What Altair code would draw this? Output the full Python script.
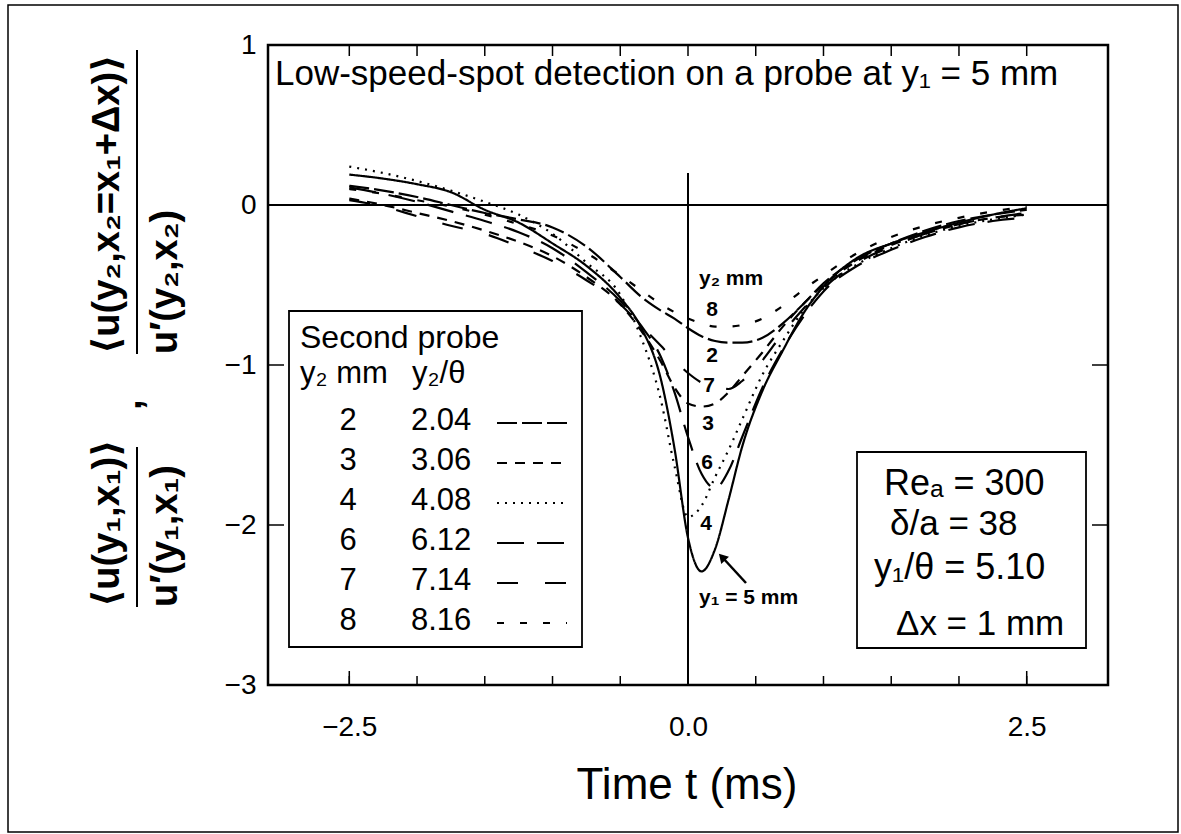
import altair as alt
import pandas as pd

# ---------------- data ----------------
T = [-2.5, -2.25, -2.0, -1.75, -1.5, -1.25, -1.0, -0.75, -0.5, -0.35, -0.2, -0.1,
     0.0, 0.1, 0.2, 0.3, 0.4, 0.55, 0.7, 0.85, 1.0, 1.25, 1.5, 1.75, 2.0, 2.25, 2.5]

Y1_5MM = [0.19, 0.165, 0.13, 0.08, -0.03, -0.11, -0.24, -0.38, -0.58, -0.76, -1.09, -1.52,
          -2.08, -2.29, -2.15, -1.84, -1.51, -1.16, -0.91, -0.68, -0.51, -0.33, -0.24, -0.17, -0.11, -0.06, -0.02]
Y2_2MM = [0.12, 0.09, 0.05, 0.0, -0.05, -0.09, -0.14, -0.26, -0.45, -0.57, -0.66, -0.71,
          -0.77, -0.82, -0.85, -0.86, -0.86, -0.83, -0.74, -0.62, -0.49, -0.34, -0.24, -0.16, -0.10, -0.06, -0.03]
Y2_3MM = [0.04, 0.0, -0.05, -0.10, -0.16, -0.23, -0.32, -0.45, -0.62, -0.78, -0.98, -1.14,
          -1.24, -1.26, -1.24, -1.17, -1.07, -0.92, -0.76, -0.62, -0.50, -0.35, -0.25, -0.18, -0.12, -0.08, -0.06]
Y2_4MM = [0.24, 0.20, 0.15, 0.09, 0.02, -0.06, -0.18, -0.36, -0.56, -0.82, -1.22, -1.63,
          -1.95, -1.88, -1.70, -1.53, -1.34, -1.06, -0.85, -0.66, -0.52, -0.37, -0.27, -0.19, -0.13, -0.09, -0.06]
Y2_6MM = [0.11, 0.07, 0.02, -0.04, -0.10, -0.17, -0.27, -0.42, -0.60, -0.75, -0.95, -1.17,
          -1.45, -1.68, -1.77, -1.66, -1.45, -1.14, -0.90, -0.70, -0.54, -0.38, -0.28, -0.20, -0.14, -0.10, -0.08]
Y2_7MM = [0.03, -0.01, -0.07, -0.13, -0.18, -0.26, -0.35, -0.47, -0.62, -0.75, -0.88, -0.97,
          -1.05, -1.11, -1.14, -1.15, -1.10, -0.97, -0.80, -0.65, -0.52, -0.36, -0.26, -0.18, -0.12, -0.08, -0.05]
Y2_8MM = [0.10, 0.07, 0.03, -0.01, -0.06, -0.12, -0.19, -0.30, -0.44, -0.53, -0.62, -0.67,
          -0.71, -0.74, -0.76, -0.76, -0.75, -0.71, -0.63, -0.53, -0.44, -0.30, -0.20, -0.13, -0.08, -0.04, -0.01]

SERIES = ["2", "3", "4", "6", "7", "8", "5"]
SERIES_VALUES = [Y2_2MM, Y2_3MM, Y2_4MM, Y2_6MM, Y2_7MM, Y2_8MM, Y1_5MM]
LEGEND_Y2_MM = ["2", "3", "4", "6", "7", "8"]
LEGEND_Y2_THETA = ["2.04", "3.06", "4.08", "6.12", "7.14", "8.16"]
X_TICKS_MINOR = [-2.5, -2.0, -1.5, -1.0, -0.5, 0.0, 0.5, 1.0, 1.5, 2.0, 2.5]
X_TICKS_MAJOR = [-2.5, 0.0, 2.5]
Y_TICK_MARKS = [-1, -2]
X_LABELS = [-2.5, 0.0, 2.5]
Y_LABELS = [1, 0, -1, -2, -3]

# ---------------- styles ----------------
DASH = {"2": [20, 5], "3": [10, 8], "4": [2, 6], "6": [27, 13], "7": [21, 27], "8": [7, 16], "5": [1, 0]}
WIDTH = {"2": 2.2, "3": 2.2, "4": 2.4, "6": 2.2, "7": 2.2, "8": 2.2, "5": 2.6}
FONT = "Liberation Sans, DejaVu Sans, sans-serif"

W, H = 840, 640
XD = [-3.1, 3.1]
YD = [-3, 1]

rows = []
for name, vals in zip(SERIES, SERIES_VALUES):
    for t, v in zip(T, vals):
        rows.append({"t": t, "v": v, "series": name})
df = pd.DataFrame(rows)

xs = alt.Scale(domain=XD, nice=False, zero=False)
ys = alt.Scale(domain=YD, nice=False, zero=False)

lines = alt.Chart(df).mark_line(interpolate="monotone", color="black", clip=True).encode(
    x=alt.X("t:Q", scale=xs, axis=alt.Axis(values=X_LABELS, format=".1f", ticks=False, tickSize=0,
                                          domain=False, grid=False, labelFont=FONT, labelFontSize=28,
                                          labelColor="black", labelPadding=28, title=None)),
    y=alt.Y("v:Q", scale=ys, axis=alt.Axis(values=Y_LABELS, format="d", ticks=False, tickSize=0,
                                          domain=False, grid=False, labelFont=FONT, labelFontSize=28,
                                          labelColor="black", labelPadding=12, title=None)),
    strokeDash=alt.StrokeDash("series:N", scale=alt.Scale(domain=SERIES, range=[DASH[s] for s in SERIES]), legend=None),
    strokeWidth=alt.StrokeWidth("series:N", scale=alt.Scale(domain=SERIES, range=[WIDTH[s] for s in SERIES]), legend=None),
    detail="series:N",
    order="t:Q",
)

one = pd.DataFrame({"a": [0]})

zero_h = alt.Chart(one).mark_rule(color="black", strokeWidth=2).encode(y=alt.datum(0, scale=ys))
zero_v = alt.Chart(one).mark_rule(color="black", strokeWidth=2).encode(
    x=alt.datum(0, scale=xs), y=alt.datum(0.2, scale=ys), y2=alt.datum(-3))

xt_minor = pd.DataFrame({"t": X_TICKS_MINOR})
xt_major = pd.DataFrame({"t": X_TICKS_MAJOR})
yt = pd.DataFrame({"v": Y_TICK_MARKS})

ticks = [
    alt.Chart(xt_minor).mark_rule(color="black", strokeWidth=1.5).encode(
        x=alt.X("t:Q", scale=xs), y=alt.value(H), y2=alt.value(H - 9)),
    alt.Chart(xt_major).mark_rule(color="black", strokeWidth=1.5).encode(
        x=alt.X("t:Q", scale=xs), y=alt.value(H), y2=alt.value(H - 14)),
    alt.Chart(xt_minor).mark_rule(color="black", strokeWidth=1.5).encode(
        x=alt.X("t:Q", scale=xs), y=alt.value(0), y2=alt.value(11)),
    alt.Chart(yt).mark_rule(color="black", strokeWidth=1.5).encode(
        y=alt.Y("v:Q", scale=ys), x=alt.value(0), x2=alt.value(16)),
    alt.Chart(yt).mark_rule(color="black", strokeWidth=1.5).encode(
        y=alt.Y("v:Q", scale=ys), x=alt.value(W), x2=alt.value(W - 16)),
]


def txt(s, x, y, size=25, align="left", weight="normal", angle=0, baseline="middle"):
    return alt.Chart(one).mark_text(text=s, font=FONT, fontSize=size, align=align, baseline=baseline,
                                    fontWeight=weight, angle=angle, color="black").encode(
        x=alt.value(x), y=alt.value(y))


def box(x1, y1, x2, y2, sw=1.8):
    return alt.Chart(one).mark_rect(fillOpacity=0, stroke="black", strokeWidth=sw).encode(
        x=alt.value(x1), x2=alt.value(x2), y=alt.value(y1), y2=alt.value(y2))


def seg(x1, y1, x2, y2, sw=2, dash=None):
    kw = {"color": "black", "strokeWidth": sw}
    if dash is not None:
        kw["strokeDash"] = dash
    return alt.Chart(one).mark_rule(**kw).encode(
        x=alt.value(x1), x2=alt.value(x2), y=alt.value(y1), y2=alt.value(y2))


OX, OY = 268, 45  # plot origin in page pixels

layers = [lines, zero_h, zero_v] + ticks

# outer figure border
layers.append(box(8 - OX, 5 - OY, 1178 - OX, 832 - OY, sw=1.5))

# title inside plot
layers.append(txt("Low-speed-spot detection on a probe at y\u2081 = 5 mm", 275 - OX, 74 - OY, size=35))

# legend box
layers.append(box(289 - OX, 311 - OY, 582 - OX, 647 - OY))
layers.append(txt("Second probe", 300 - OX, 338 - OY, size=32))
layers.append(txt("y\u2082 mm", 300 - OX, 374 - OY, size=31))
layers.append(txt("y\u2082/\u03b8", 412 - OX, 374 - OY, size=31))
for i, (a, b) in enumerate(zip(LEGEND_Y2_MM, LEGEND_Y2_THETA)):
    yy = 421 + 40 * i - OY
    layers.append(txt(a, 348 - OX, yy, size=31, align="center"))
    layers.append(txt(b, 411 - OX, yy, size=31))
    layers.append(seg(497 - OX, yy + 2, 567 - OX, yy + 2, sw=2, dash=DASH[a]))

# parameter box
layers.append(box(857 - OX, 452 - OY, 1086 - OX, 648 - OY))
layers.append(txt("Re\u2090 = 300", 884 - OX, 484 - OY, size=36))
layers.append(txt("\u03b4/a = 38", 890 - OX, 524 - OY, size=35))
layers.append(txt("y\u2081/\u03b8 = 5.10", 874 - OX, 568 - OY, size=36))
layers.append(txt("\u0394x = 1 mm", 896 - OX, 624 - OY, size=35))

# curve labels
layers.append(txt("y\u2082 mm", 699 - OX, 279 - OY, size=21, weight="bold"))
for s, (lx, ly) in zip(["8", "2", "7", "3", "6", "4"],
                       [(712, 310), (712, 356), (709, 386), (708, 424), (707, 463), (706, 524)]):
    layers.append(txt(s, lx - OX, ly - OY, size=21, weight="bold", align="center"))
layers.append(txt("y\u2081 = 5 mm", 699 - OX, 598 - OY, size=21, weight="bold"))
layers.append(seg(746 - OX, 583 - OY, 723 - OX, 558 - OY, sw=2.5))
layers.append(alt.Chart(one).mark_point(shape="triangle-up", filled=True, color="black", size=110,
                                        angle=317, opacity=1).encode(
    x=alt.value(722 - OX), y=alt.value(557 - OY)))

# x title
layers.append(txt("Time t (ms)", 687 - OX, 786 - OY, size=44, align="center"))

# y title (rotated fractions)
layers.append(txt("\u27e8u(y\u2082,x\u2082=x\u2081+\u0394x)\u27e9", 108 - OX, 354 - OY, size=38, weight="bold", angle=270))
layers.append(seg(137 - OX, 50 - OY, 137 - OX, 354 - OY, sw=2))
layers.append(txt("u\u2032(y\u2082,x\u2082)", 166 - OX, 354 - OY, size=38, weight="bold", angle=270))
layers.append(txt(",", 130 - OX, 410 - OY, size=38, weight="bold", angle=270))
layers.append(txt("\u27e8u(y\u2081,x\u2081)\u27e9", 108 - OX, 607 - OY, size=38, weight="bold", angle=270))
layers.append(seg(137 - OX, 447 - OY, 137 - OX, 607 - OY, sw=2))
layers.append(txt("u\u2032(y\u2081,x\u2081)", 166 - OX, 607 - OY, size=38, weight="bold", angle=270))

chart = alt.layer(*layers).properties(
    width=W, height=H,
    padding={"left": OX, "top": OY, "right": 1181 - OX - W, "bottom": 834 - OY - H},
    autosize=alt.AutoSizeParams(type="none"),
    background="white",
).configure_view(stroke="black", strokeWidth=2.5)

chart.save("out.html", embed_options={"renderer": "svg", "actions": False})
